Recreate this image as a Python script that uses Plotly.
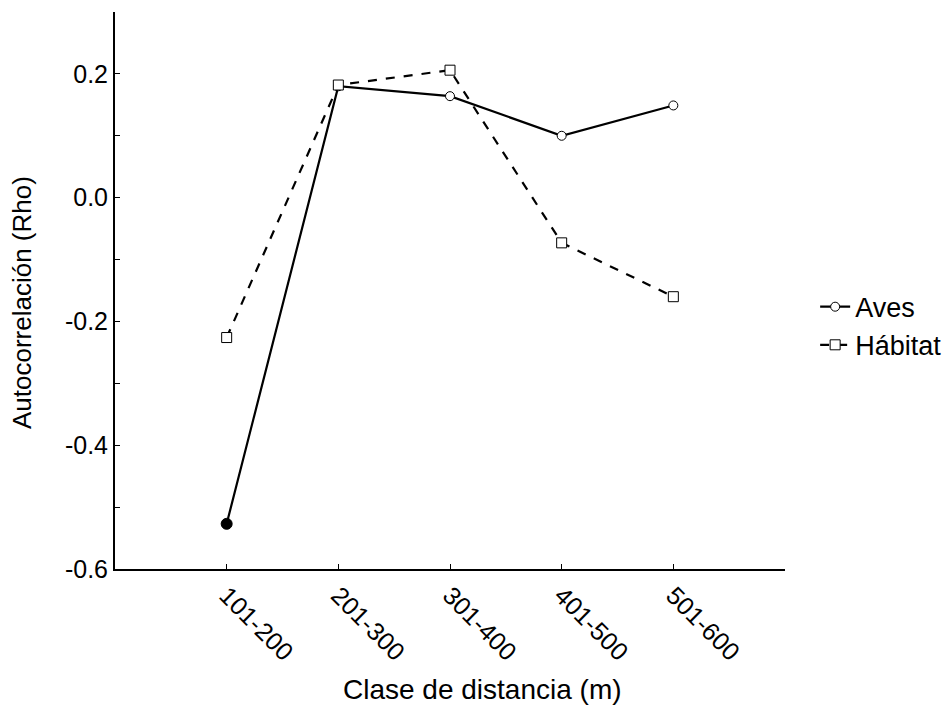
import plotly.graph_objects as go

categories = ["101-200", "201-300", "301-400", "401-500", "501-600"]
aves = [-0.527, 0.180, 0.164, 0.100, 0.149]
aves_significant = [True, False, False, False, False]
habitat = [-0.226, 0.182, 0.206, -0.073, -0.160]
ytick_vals = [-0.6, -0.5, -0.4, -0.3, -0.2, -0.1, 0.0, 0.1, 0.2, 0.3]
ytick_text = ["-0.6", "", "-0.4", "", "-0.2", "", "0.0", "", "0.2", ""]

xidx = list(range(len(categories)))
FONT = "Liberation Sans, Arial, sans-serif"

fig = go.Figure()
fig.add_trace(go.Scatter(
    x=xidx, y=aves, name="Aves", mode="lines+markers",
    line=dict(color="black", width=2.2),
    marker=dict(symbol="circle", size=9, color="white",
                line=dict(color="black", width=1)),
))
sig_x = [i for i, s in zip(xidx, aves_significant) if s]
sig_y = [v for v, s in zip(aves, aves_significant) if s]
fig.add_trace(go.Scatter(
    x=sig_x, y=sig_y, mode="markers", showlegend=False,
    marker=dict(symbol="circle", size=11, color="black",
                line=dict(color="black", width=1)),
))
fig.add_trace(go.Scatter(
    x=xidx, y=habitat, name="Hábitat", mode="lines+markers",
    line=dict(color="black", width=2.2, dash="dash"),
    marker=dict(symbol="square", size=10, color="white",
                line=dict(color="black", width=1)),
))

fig.update_layout(
    width=944, height=699,
    paper_bgcolor="white", plot_bgcolor="white",
    margin=dict(l=107, r=167, t=4, b=138),
    font=dict(family=FONT, size=25, color="black"),
    legend=dict(x=1.045, y=0.436, xanchor="left", yanchor="middle",
                font=dict(size=27), itemwidth=30, bgcolor="rgba(0,0,0,0)",
                tracegroupgap=0),
    xaxis=dict(
        range=[-1, 5], tickvals=xidx, ticktext=categories, tickangle=45,
        showline=True, linecolor="black", linewidth=2, ticks="inside",
        ticklen=5, tickcolor="black", showgrid=False, zeroline=False,
        tickfont=dict(size=25),
    ),
    yaxis=dict(
        range=[-0.6, 0.3], tickvals=ytick_vals, ticktext=ytick_text,
        showline=True, linecolor="black", linewidth=2, ticks="inside",
        ticklen=5, tickcolor="black", showgrid=False, zeroline=False,
        tickfont=dict(size=25),
    ),
    annotations=[
        dict(text="Clase de distancia (m)", xref="paper", yref="paper",
             x=0.549, y=-0.217, xanchor="center", yanchor="middle",
             showarrow=False, font=dict(size=28)),
        dict(text="Autocorrelación (Rho)", xref="paper", yref="paper",
             x=-0.139, y=0.479, xanchor="center", yanchor="middle",
             textangle=-90, showarrow=False, font=dict(size=26)),
    ],
)

fig.write_html("out.html")
